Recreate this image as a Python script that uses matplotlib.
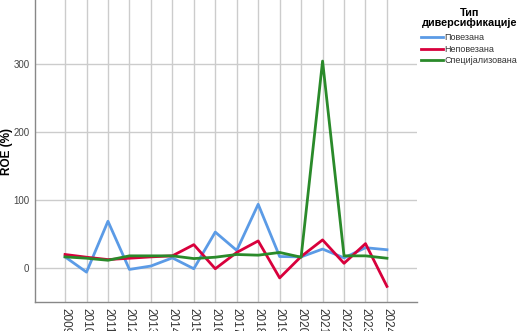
import matplotlib
matplotlib.use("Agg")
import matplotlib.pyplot as plt
import numpy as np

plt.rcParams['font.family'] = ['Liberation Sans', 'DejaVu Sans']

years = ["2009", "2010", "2011", "2012", "2013", "2014", "2015", "2016",
         "2017", "2018", "2019", "2020", "2021", "2022", "2023", "2024"]
povezana = [16.5, -6, 69, -2, 3, 15, -1, 53, 26, 94, 17, 16.5, 28, 15, 30, 27]
nepovezana = [20, 16, 12.5, 14.5, 16.5, 18, 34.5, -1, 23, 40, -14.5, 17, 41.5, 7, 36, -27]
specijalizovana = [16.5, 14.5, 11.5, 18, 18, 18, 14, 16, 20, 19, 23, 16, 305, 18, 18, 14.5]
series_names = ["Повезана", "Неповезана", "Специјализована"]
colors = ["#5b9be6", "#d8003c", "#2a8a2a"]
yticks = [0, 100, 200, 300]

fig = plt.figure(figsize=(5.18, 3.31), dpi=100)
ax = fig.add_axes([35/518, 1 - 302/331, (417-35)/518, 302/331])

x = np.arange(len(years))
for vals, name, c in zip([povezana, nepovezana, specijalizovana], series_names, colors):
    ax.plot(x, vals, color=c, lw=2.0, label=name, zorder=3)

ax.set_xlim(-1.4, 16.4)
ax.set_ylim(-50, 395)
ax.set_xticks(x)
ax.set_xticklabels(years, rotation=-90, fontsize=8.5, color="#333333")
ax.set_yticks(yticks)
ax.set_yticklabels([str(t) for t in yticks], fontsize=7, color="#444444")
ax.tick_params(length=0, pad=4)
ax.grid(True, color="#cccccc", lw=1.0, zorder=0)
for s in ["top", "right"]:
    ax.spines[s].set_visible(False)
for s in ["left", "bottom"]:
    ax.spines[s].set_color("#888888")
    ax.spines[s].set_linewidth(1.0)
fig.text(7/518, 1 - 152/331, "ROE (%)", rotation=90, fontsize=8.5,
         fontweight="bold", ha="center", va="center")

fig.text(470/518, 1 - 8/331, "Тип\nдиверсификације", fontsize=7.8,
         fontweight="bold", ha="center", va="top", linespacing=1.0)

handles, labels = ax.get_legend_handles_labels()
leg = fig.legend(handles, labels, loc="upper left",
                 bbox_to_anchor=(421/518, 1 - 33/331), frameon=False,
                 fontsize=6.5, handlelength=2.4, handletextpad=0.2,
                 labelspacing=0.3, borderaxespad=0.0, borderpad=0.0)
for t in leg.get_texts():
    t.set_color("#333333")

fig.savefig("out.png", dpi=100)
